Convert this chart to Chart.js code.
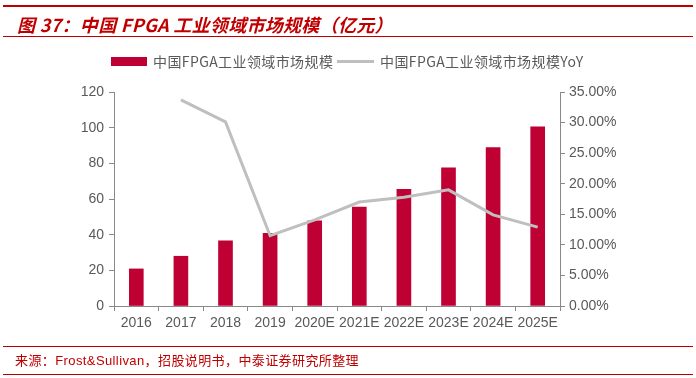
<!DOCTYPE html>
<html><head><meta charset="utf-8">
<script src="https://cdn.jsdelivr.net/npm/chart.js@4/dist/chart.umd.min.js"></script>
<style>
html,body{margin:0;padding:0;background:#fff;width:696px;height:378px;overflow:hidden;}
#wrap{position:absolute;left:0;top:0;width:696px;height:378px;}
.hl{position:absolute;left:3px;width:690px;background:#c00000;}
#title{position:absolute;left:17px;top:12px;font:italic bold 18px "Noto Sans CJK SC","Liberation Sans",sans-serif;color:#c00000;white-space:nowrap;line-height:24px;letter-spacing:0.3px;}
#foot{position:absolute;left:15px;top:352px;font:13px "Liberation Sans","Noto Sans CJK SC",sans-serif;color:#c00000;white-space:nowrap;line-height:18px;letter-spacing:0.4px;}
#legend{position:absolute;top:52px;left:111px;font:14px "Noto Sans CJK SC",serif;color:#595959;white-space:nowrap;line-height:18px;letter-spacing:0.4px;}
#legend span{position:absolute;top:0;}
</style></head>
<body>
<div id="wrap"><canvas id="c" width="696" height="378"></canvas></div>
<div class="hl" style="top:5px;height:2px"></div>
<div id="title">图 37：中国 FPGA 工业领域市场规模（亿元）</div>
<div class="hl" style="top:36px;height:1px"></div>
<div id="legend">
  <span style="left:0;top:5px;width:36px;height:9px;background:#be0032"></span>
  <span style="left:42px">中国FPGA工业领域市场规模</span>
  <span style="left:226px;top:8px;width:37px;height:3px;background:#bfbfbf"></span>
  <span style="left:269px">中国FPGA工业领域市场规模YoY</span>
</div>
<div class="hl" style="top:346px;height:1px"></div>
<div id="foot">来源：Frost&amp;Sullivan，招股说明书，中泰证券研究所整理</div>
<div class="hl" style="top:374px;height:1px"></div>
<script>
const categories = ["2016","2017","2018","2019","2020E","2021E","2022E","2023E","2024E","2025E"];
const marketSize = [20.8, 27.9, 36.6, 40.8, 47.7, 55.5, 65.4, 77.5, 88.8, 100.4];
const yoyPct = [null, 33.7, 30.1, 11.5, 14.1, 17.0, 17.8, 19.0, 14.9, 12.9];
const leftTicks = [0,20,40,60,80,100,120];
const rightTicks = [0,5,10,15,20,25,30,35];

const axisColor = '#898989';
const tickFont = {family:'"Liberation Sans", Arial, sans-serif', size:14};
const tickColor = '#595959';

new Chart(document.getElementById('c'), {
  data: {
    labels: categories,
    datasets: [
      {type:'line', label:'中国FPGA工业领域市场规模YoY', data: yoyPct, yAxisID:'y1',
       borderColor:'#bfbfbf', borderWidth:3, pointRadius:0, tension:0, order:0, fill:false},
      {type:'bar', label:'中国FPGA工业领域市场规模', data: marketSize, yAxisID:'y',
       backgroundColor:'#be0032', barThickness:14, order:1}
    ]
  },
  options: {
    responsive:false, animation:false, devicePixelRatio:1,
    layout:{padding:{top:92,left:0,right:0,bottom:0}},
    plugins:{legend:{display:false}, tooltip:{enabled:false}},
    scales:{
      x:{
        grid:{display:true, drawOnChartArea:false, offset:true, tickLength:5, color:axisColor},
        border:{color:axisColor, width:1},
        ticks:{font:tickFont, color:tickColor, padding:4, maxRotation:0, autoSkip:false},
        afterFit(s){ s.height = 72; }
      },
      y:{
        position:'left', min:0, max:120,
        afterBuildTicks(s){ s.ticks = leftTicks.map(v=>({value:v})); },
        grid:{drawOnChartArea:false, tickLength:5, color:axisColor},
        border:{color:axisColor, width:1},
        ticks:{font:tickFont, color:tickColor, padding:5},
        afterFit(s){ s.width = 114; }
      },
      y1:{
        position:'right', min:0, max:35,
        afterBuildTicks(s){ s.ticks = rightTicks.map(v=>({value:v})); },
        grid:{drawOnChartArea:false, tickLength:5, color:axisColor},
        border:{color:axisColor, width:1},
        ticks:{font:tickFont, color:tickColor, padding:4, callback:v=>Number(v).toFixed(2)+'%'},
        afterFit(s){ s.width = 136; }
      }
    }
  }
});
</script>
</body></html>
